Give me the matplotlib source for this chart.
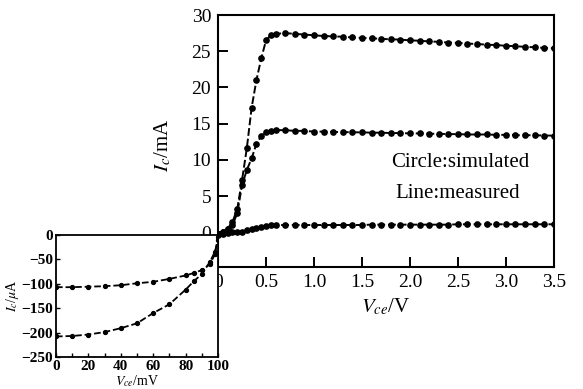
import numpy as np
import matplotlib.pyplot as plt

plt.rcParams['font.family'] = 'Liberation Serif'
plt.rcParams['mathtext.fontset'] = 'stix'

# main plot: Vce (V) vs Ic (mA), three base-current levels
vce = [0.0, 0.05, 0.1, 0.15, 0.2, 0.25, 0.3, 0.35, 0.4, 0.45, 0.5, 0.55, 0.6,
       0.7, 0.8, 0.9, 1.0, 1.1, 1.2, 1.3, 1.4, 1.5, 1.6, 1.7, 1.8, 1.9, 2.0,
       2.1, 2.2, 2.3, 2.4, 2.5, 2.6, 2.7, 2.8, 2.9, 3.0, 3.1, 3.2, 3.3, 3.4, 3.5]
ic_high = [-0.2, 0.1, 0.5, 1.4, 3.2, 7.2, 11.6, 17.2, 21.0, 24.0, 26.5, 27.2, 27.4,
           27.5, 27.4, 27.3, 27.2, 27.1, 27.05, 27.0, 26.9, 26.85, 26.8, 26.7, 26.65, 26.6, 26.5,
           26.45, 26.35, 26.3, 26.2, 26.15, 26.05, 26.0, 25.9, 25.85, 25.75, 25.7, 25.6, 25.55, 25.45, 25.4]
ic_mid = [-0.2, 0.1, 0.4, 1.0, 2.6, 6.5, 8.6, 10.2, 12.2, 13.3, 13.8, 14.0, 14.1,
          14.1, 14.0, 14.0, 13.9, 13.9, 13.85, 13.85, 13.8, 13.8, 13.75, 13.75, 13.7, 13.7, 13.65,
          13.65, 13.6, 13.6, 13.55, 13.55, 13.5, 13.5, 13.5, 13.45, 13.45, 13.4, 13.4, 13.4, 13.35, 13.35]
ic_low = [-0.4, -0.2, -0.1, 0.0, 0.05, 0.1, 0.3, 0.45, 0.6, 0.75, 0.9, 0.95, 1.0,
          1.0, 1.0, 1.0, 1.0, 1.0, 1.0, 1.0, 1.0, 1.0, 1.05, 1.05, 1.05, 1.05, 1.05,
          1.05, 1.05, 1.05, 1.05, 1.1, 1.1, 1.1, 1.1, 1.1, 1.1, 1.1, 1.1, 1.1, 1.1, 1.1]

# inset: Vce (mV) vs Ic (uA)
vce_mv = [0, 10, 20, 30, 40, 50, 60, 70, 80, 85, 90, 95, 98, 100]
ic_ua_1 = [-107, -107, -106, -105, -103, -99, -96, -90, -83, -78, -72, -60, -40, -5]
ic_ua_2 = [-208, -207, -204, -199, -191, -181, -160, -142, -112, -95, -80, -55, -35, -10]

fig = plt.figure(figsize=(5.83, 3.89), dpi=100)
ax = fig.add_axes([0.374, 0.3136, 0.576, 0.6478])
for ic in (ic_high, ic_mid, ic_low):
    ax.plot(vce, ic, color='black', lw=1.4, ls='--', marker='o', ms=3.8,
            mfc='black', mec='black', dashes=(4, 1.5))
ax.set_xlim(0, 3.5)
ax.set_ylim(-4.8, 30)
ax.set_xticks(np.arange(0, 3.51, 0.5))
ax.set_xticklabels(['0', '0.5', '1.0', '1.5', '2.0', '2.5', '3.0', '3.5'])
ax.set_yticks(range(0, 31, 5))
ax.tick_params(direction='in', length=7, width=1.4, labelsize=14, pad=5)
for s in ax.spines.values():
    s.set_linewidth(1.5)
ax.text(-0.164, 0.484, r'$I_c$/mA', transform=ax.transAxes, rotation=90,
        fontsize=15, ha='center', va='center')
ax.set_xlabel(r'$V_{ce}$/V', fontsize=15, labelpad=4)
ax.text(2.52, 9.7, 'Circle:simulated', fontsize=15, ha='center', va='center')
ax.text(2.5, 5.4, 'Line:measured', fontsize=15, ha='center', va='center')

ins = fig.add_axes([0.096, 0.0823, 0.278, 0.3137])
ins.plot(vce_mv, ic_ua_1, color='black', lw=1.3, ls='--', marker='o', ms=2.8)
ins.plot(vce_mv, ic_ua_2, color='black', lw=1.3, ls='--', marker='o', ms=2.8)
ins.set_xlim(0, 100)
ins.set_ylim(-250, 0)
ins.set_xticks(range(0, 101, 20))
ins.set_xticks(range(0, 101, 10), minor=True)
ins.set_yticks(range(-250, 1, 50))
ins.tick_params(which='both', direction='in', length=3, width=1, labelsize=11, pad=2)
for lab in ins.get_xticklabels() + ins.get_yticklabels():
    lab.set_fontweight('bold')
for s in ins.spines.values():
    s.set_linewidth(1.3)
ins.set_xlabel(r'$V_{ce}$/mV', fontsize=10, labelpad=0)
ins.set_ylabel(r'$I_c$/$\mu$A', fontsize=10, labelpad=0)

fig.savefig('out.png', dpi=100)
